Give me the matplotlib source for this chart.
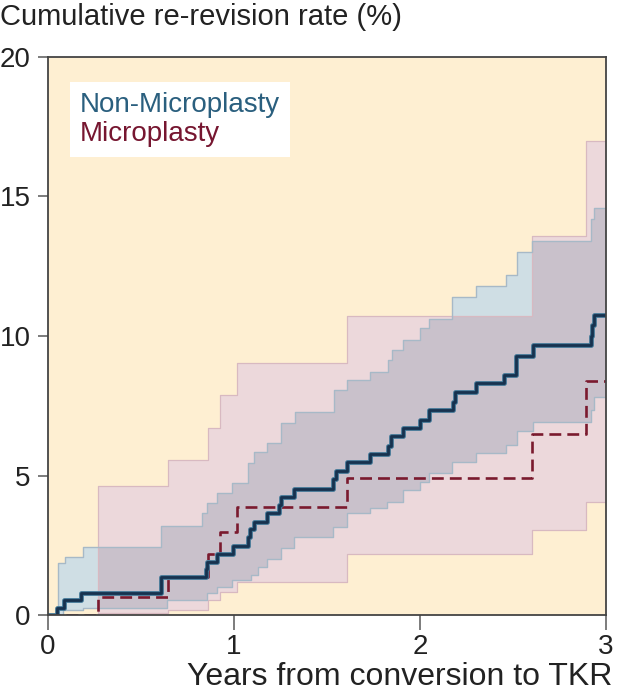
import numpy as np
import matplotlib
matplotlib.use('Agg')
import matplotlib.pyplot as plt
import matplotlib.patheffects as pe

plt.rcParams['font.family'] = ['Liberation Sans', 'DejaVu Sans']

# Non-Microplasty: step times (years) and cumulative re-revision rate (%)
nm_t = [0, 0.05, 0.086, 0.18, 0.61, 0.85, 0.855, 0.91, 0.995, 1.075, 1.085, 1.11, 1.18,
        1.24, 1.25, 1.32, 1.53, 1.55, 1.61, 1.73, 1.83, 1.845, 1.91, 2.0, 2.05, 2.175,
        2.19, 2.3, 2.45, 2.515, 2.61, 2.92, 2.925, 2.935]
nm_v = [0, 0.25, 0.54, 0.79, 1.36, 1.65, 1.9, 2.2, 2.47, 2.8, 3.08, 3.33, 3.66,
        3.94, 4.23, 4.5, 4.87, 5.16, 5.48, 5.77, 6.06, 6.4, 6.7, 7.0, 7.35, 7.63,
        7.99, 8.3, 8.6, 9.3, 9.67, 10.0, 10.4, 10.75]

# Non-Microplasty 95% CI
nm_hi_t = [0, 0.054, 0.09, 0.19, 0.61, 0.83, 0.855, 0.91, 0.99, 1.075, 1.11, 1.18, 1.25,
           1.33, 1.54, 1.61, 1.73, 1.83, 1.85, 1.91, 2.0, 2.05, 2.17, 2.3, 2.46, 2.52,
           2.6, 2.92, 2.935]
nm_hi_v = [0, 1.86, 2.08, 2.44, 3.2, 3.66, 4.0, 4.37, 4.73, 5.45, 5.85, 6.16, 6.88,
           7.28, 8.06, 8.42, 8.7, 9.14, 9.5, 9.86, 10.28, 10.6, 11.4, 11.8, 12.2, 13.0,
           13.4, 14.2, 14.6]
nm_lo_t = [0, 0.08, 0.19, 0.64, 0.855, 0.91, 0.99, 1.09, 1.13, 1.18, 1.25, 1.32, 1.53,
           1.61, 1.73, 1.82, 1.91, 2.0, 2.05, 2.17, 2.3, 2.46, 2.52, 2.61, 2.92, 2.935]
nm_lo_v = [0, 0.18, 0.25, 0.54, 0.79, 1.0, 1.25, 1.43, 1.72, 2.0, 2.4, 2.8, 3.15,
           3.65, 3.83, 4.05, 4.48, 4.77, 5.09, 5.48, 5.8, 6.1, 6.6, 6.9, 7.35, 7.8]

# Microplasty
mp_t = [0, 0.27, 0.645, 0.86, 0.925, 1.015, 1.61, 2.6, 2.89]
mp_v = [0, 0.65, 1.36, 2.2, 2.97, 3.87, 4.9, 6.5, 8.4]
mp_hi_v = [0, 4.62, 5.55, 6.7, 7.9, 9.05, 10.7, 13.6, 17.0]
mp_lo_v = [0, 0.07, 0.18, 0.54, 0.82, 1.2, 2.2, 3.05, 4.05]

x_end = 3.0


def step_at(t, v, grid):
    idx = np.searchsorted(t, grid, side='right') - 1
    return np.asarray(v)[idx]


grid = np.union1d(np.union1d(nm_t, nm_hi_t), np.union1d(nm_lo_t, mp_t))
grid = np.append(grid, x_end)

nm = step_at(nm_t, nm_v, grid)
nm_hi = step_at(nm_hi_t, nm_hi_v, grid)
nm_lo = step_at(nm_lo_t, nm_lo_v, grid)
mp = step_at(mp_t, mp_v, grid)
mp_hi = step_at(mp_t, mp_hi_v, grid)
mp_lo = step_at(mp_t, mp_lo_v, grid)

ov_lo = np.maximum(nm_lo, mp_lo)
ov_hi = np.minimum(nm_hi, mp_hi)

fig = plt.figure(figsize=(6.17, 6.93), dpi=100)
ax = fig.add_axes([48 / 617, 1 - 615 / 693, 558 / 617, 558 / 693])
ax.set_facecolor('#feefd2')

ax.fill_between(grid, mp_lo, mp_hi, step='post', color='#ecd8db', lw=0)
ax.fill_between(grid, nm_lo, nm_hi, step='post', color='#cfdee4', lw=0)
ax.fill_between(grid, ov_lo, ov_hi, where=ov_hi > ov_lo, step='post',
                color='#c9c1cb', lw=0)

for b in (mp_lo, mp_hi):
    ax.step(grid, b, where='post', color='#d8b9c1', lw=0.9)
for b in (nm_lo, nm_hi):
    ax.step(grid, b, where='post', color='#a7b9c7', lw=1.0)

ax.step(grid, mp, where='post', color='#7a1a2e', lw=1.9, dashes=(4.5, 2.3))
ax.step(grid, nm, where='post', color='#17324f', lw=2.0,
        path_effects=[pe.Stroke(linewidth=3.4, foreground='#3d7494'), pe.Normal()])

ax.set_xlim(0, 3)
ax.set_ylim(0, 20)
ax.set_xticks([0, 1, 2, 3])
ax.set_yticks([0, 5, 10, 15, 20])
ax.tick_params(axis='x', length=11, width=1.2, color='#666666', pad=3,
               labelsize=20, labelcolor='#222222')
ax.tick_params(axis='y', length=7.5, width=1.2, color='#666666', pad=5,
               labelsize=20, labelcolor='#222222')
for s in ax.spines.values():
    s.set_color('#444444')
    s.set_linewidth(1.3)

# legend box
h = [plt.Line2D([], [], lw=0), plt.Line2D([], [], lw=0)]
leg = ax.legend(h, ['Non-Microplasty', 'Microplasty'], loc='upper left',
                bbox_to_anchor=(0.04, 0.955), handlelength=0, handletextpad=0,
                fontsize=20, labelcolor=['#2a5f7e', '#761630'], frameon=True,
                fancybox=False, borderpad=0.35, labelspacing=0.12, borderaxespad=0)
leg.get_frame().set_facecolor('white')
leg.get_frame().set_edgecolor('none')
leg.get_frame().set_alpha(1)

fig.text(0.0, 1 - 17 / 693, 'Cumulative re-revision rate (%)', ha='left', va='center',
         fontsize=21, color='#222222')
fig.text(0.993, 1 - 685 / 693, 'Years from conversion to TKR', ha='right', va='baseline',
         fontsize=23, color='#222222')

fig.savefig('out.png', dpi=100)
